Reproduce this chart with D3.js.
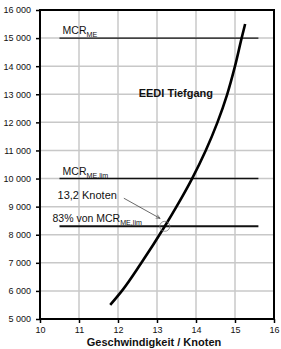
<!DOCTYPE html>
<html>
<head>
<meta charset="utf-8">
<script src="https://cdn.jsdelivr.net/npm/d3@7"></script>
<style>
  body { margin: 0; background: #fff; }
  text { font-family: "Liberation Sans", Arial, sans-serif; fill: #111; }
</style>
</head>
<body>
<div id="chart-area"></div>
<script>
// curve: speed (knots) vs. power
var speed = [11.8, 12.1, 12.6, 13.2, 13.5, 13.9, 14.25, 14.55, 14.8, 15.0, 15.17, 15.26];
var power = [5500, 6000, 7000, 8300, 9000, 10000, 11000, 12000, 13000, 14000, 15000, 15500];

// horizontal reference levels
var refLevels = [15000, 10000, 8300];
var refFrom = 10.5, refTo = 15.6;

var xTicks = [10, 11, 12, 13, 14, 15, 16];
var yTicks = [5000, 6000, 7000, 8000, 9000, 10000, 11000, 12000, 13000, 14000, 15000, 16000];

var margin = { left: 40, right: 7, top: 10, bottom: 30 };
var width = 281 - margin.left - margin.right,
    height = 349 - margin.top - margin.bottom;

var svg = d3.select("#chart-area")
    .append("svg")
    .attr("width", 281)
    .attr("height", 349);

var defs = svg.append("defs");
defs.append("marker")
    .attr("id", "arrow")
    .attr("viewBox", "0 0 10 10")
    .attr("refX", 9).attr("refY", 5)
    .attr("markerWidth", 6).attr("markerHeight", 6)
    .attr("orient", "auto")
    .append("path")
    .attr("d", "M0,1 L9,5 L0,9")
    .attr("fill", "none")
    .attr("stroke", "#444")
    .attr("stroke-width", 1.2);

var g = svg.append("g")
    .attr("transform", "translate(" + margin.left + "," + margin.top + ")");

var x = d3.scaleLinear().domain([10, 16]).range([0, width]);
var y = d3.scaleLinear().domain([5000, 16000]).range([height, 0]);

var fmt = d3.formatLocale({ decimal: ",", thousands: " ", grouping: [3], currency: ["", ""] }).format(",");

// GRID
g.selectAll(".vgrid")
    .data(xTicks.slice(1, -1))
    .enter().append("line")
    .attr("x1", function (d) { return x(d); })
    .attr("x2", function (d) { return x(d); })
    .attr("y1", 0).attr("y2", height)
    .attr("stroke", "#c8c8c8").attr("stroke-width", 1.5);

g.selectAll(".hgrid")
    .data(yTicks.slice(1, -1))
    .enter().append("line")
    .attr("y1", function (d) { return y(d); })
    .attr("y2", function (d) { return y(d); })
    .attr("x1", 0).attr("x2", width)
    .attr("stroke", "#c8c8c8").attr("stroke-width", 1.5);

// AXES
var yAxis = g.append("g")
    .call(d3.axisLeft(y).tickValues(yTicks).tickSize(4).tickPadding(5).tickFormat(fmt));
var xAxis = g.append("g")
    .attr("transform", "translate(0," + height + ")")
    .call(d3.axisBottom(x).tickValues(xTicks).tickSize(4).tickPadding(4).tickFormat(d3.format("d")));

[yAxis, xAxis].forEach(function (a) {
    a.select(".domain").remove();
    a.selectAll(".tick line").attr("stroke", "#000").attr("stroke-width", 1.5);
    a.selectAll(".tick text")
        .attr("font-family", "Liberation Sans, Arial, sans-serif")
        .attr("font-size", "9px")
        .attr("fill", "#222");
});

// FRAME
g.append("rect")
    .attr("x", 0).attr("y", 0)
    .attr("width", width).attr("height", height)
    .attr("fill", "none")
    .attr("stroke", "#000")
    .attr("stroke-width", 2);

// REFERENCE LINES
g.selectAll(".ref")
    .data(refLevels)
    .enter().append("line")
    .attr("x1", x(refFrom)).attr("x2", x(refTo))
    .attr("y1", function (d) { return y(d); })
    .attr("y2", function (d) { return y(d); })
    .attr("stroke", "#111")
    .attr("stroke-width", function (d, i) { return i === 2 ? 2 : 1.4; });

// CURVE
var line = d3.line()
    .x(function (d) { return x(d[0]); })
    .y(function (d) { return y(d[1]); })
    .curve(d3.curveMonotoneY);

g.append("path")
    .datum(d3.zip(speed, power))
    .attr("d", line)
    .attr("fill", "none")
    .attr("stroke", "#000")
    .attr("stroke-width", 2.6);

// INTERSECTION MARKER
g.append("circle")
    .attr("cx", x(13.2)).attr("cy", y(8300))
    .attr("r", 5)
    .attr("fill", "none")
    .attr("stroke", "#777")
    .attr("stroke-width", 0.8);

g.append("line")
    .attr("x1", x(12.15)).attr("y1", y(9300))
    .attr("x2", x(13.08)).attr("y2", y(8580))
    .attr("stroke", "#444")
    .attr("stroke-width", 0.8)
    .attr("marker-end", "url(#arrow)");

// LABELS
function subLabel(px, py, main, sub, size) {
    var t = g.append("text")
        .attr("x", px).attr("y", py)
        .attr("font-size", size + "px");
    t.append("tspan").text(main);
    t.append("tspan")
        .attr("dy", 3)
        .attr("font-size", (size * 0.68) + "px")
        .text(sub);
    return t;
}

subLabel(x(10.58), y(refLevels[0]) - 4, "MCR", "ME", 10.5);
subLabel(x(10.58), y(refLevels[1]) - 4, "MCR", "ME,lim", 10.5);
subLabel(x(10.32), y(refLevels[2]) - 4, "83% von MCR", "ME,lim", 10.5);

g.append("text")
    .attr("x", x(10.45)).attr("y", y(9300) + 1)
    .attr("font-size", "11px")
    .text("13,2 Knoten");

g.append("text")
    .attr("x", x(12.53)).attr("y", y(13000) + 3)
    .attr("font-size", "11px")
    .attr("font-weight", "bold")
    .text("EEDI Tiefgang");

g.append("text")
    .attr("x", width / 2 - 3)
    .attr("y", height + 27)
    .attr("font-size", "11px")
    .attr("font-weight", "bold")
    .attr("text-anchor", "middle")
    .text("Geschwindigkeit / Knoten");
</script>
</body>
</html>
